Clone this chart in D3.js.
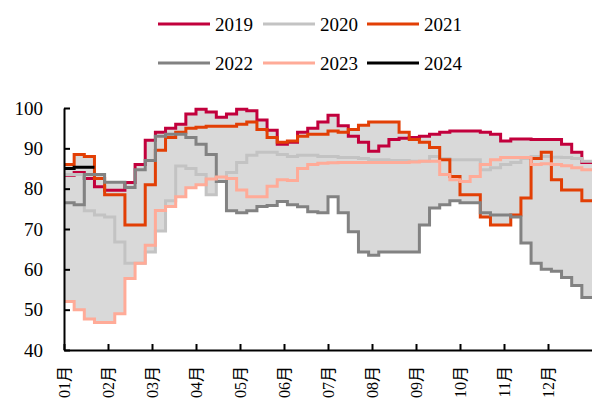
<!DOCTYPE html>
<html><head><meta charset="utf-8">
<script src="https://cdn.jsdelivr.net/npm/d3@7"></script>
<style>
html,body{margin:0;padding:0;background:#fff;overflow:hidden;}
svg{display:block;}
text{font-family:"Liberation Serif","Noto Sans CJK SC",serif;fill:#000;}
</style></head>
<body><svg id="c" width="592" height="403"></svg>
<script>
const months = ["01月","02月","03月","04月","05月","06月","07月","08月","09月","10月","11月","12月"];
const yTicks = [40,50,60,70,80,90,100];
const seriesNames = ["2019","2020","2021","2022","2023","2024"];
const seriesColors = ["#C2003C","#C3C3C3","#E23F05","#828282","#FFAB98","#000000"];

const s2019 = [83.3,84,82.5,80.5,79.6,79.6,81.5,86,92,94,95,96,98.5,99.7,99,97.7,98.5,99.7,99.3,97,94.5,91,91.5,94,95,96.5,98.2,95.6,93,91.5,89.3,90.6,92.2,92.5,92.7,93,93.5,94,94.3,94.3,94.3,94,93.5,91.8,92.3,92.3,92.2,92.2,92.2,91,89,86.5];
const s2020 = [83.5,83.5,74.5,73.5,73,66.8,61.5,61.5,64.3,69.5,77,85.6,85,83.5,78.5,81.8,84,86.5,88.3,89,89,88.5,88,88.3,88.3,88,88,87.7,87.7,87.5,87.2,87.2,87,87,86.8,86.8,88,87.5,87.2,87.2,87.2,84.7,85.2,86,86.5,87.5,88,88,87.8,87.7,87.5,86.8];
const s2021 = [86,88.5,88,82.5,78.5,78.5,71,71,81,89.5,92.7,94,95,95.2,95.5,95.5,95.5,96,96.5,94.7,92.7,91.5,91.8,93,93.5,93.5,94.3,94,94.7,95.7,96.5,96.5,96.5,94,92.2,91.5,90.2,87.2,83,78.5,78.5,73,71,71,73.5,77.7,87.5,89,82.2,79.7,79.7,77];
const s2022 = [76.5,76,83.5,83.5,81.6,81.6,80.3,84.7,87,93,93.5,93.5,92.7,91,88.5,81.8,74.5,74,74.5,75.6,75.8,76.8,76,75.5,74.3,74,78,74,69.3,64.3,63.5,64.3,64.3,64.3,64.3,71,75.2,76,77,76.5,76.5,74,73.5,73.5,73,66.5,61.5,60,59.5,58,56,53];
const s2023 = [52,50,47.7,46.8,46.8,49,57.7,61.5,66,74.6,75.6,78,80.2,81,82.4,82.9,82.5,79.7,78,78,80.6,82.2,82,85,86,86.3,86.4,86.5,86.5,86.5,86.5,86.5,86.5,86.5,86.6,86.8,86.8,83.5,82.2,81.8,83,86,87.2,87.7,87.7,87.7,86,86.2,86,85.7,85.2,84.7];
const s2024 = [85,85.3,85.3];

const allSeries = [s2019,s2020,s2021,s2022,s2023,s2024];
const nWeeks = 52;

const svg = d3.select("#c");
const mLeft = 64, mRight = 592, mTop = 108, mBottom = 350;

const x = d3.scaleLinear().domain([0, nWeeks]).range([mLeft, mRight]);
const xm = d3.scaleLinear().domain([0, 12]).range([mLeft, mRight]);
const y = d3.scaleLinear().domain([40, 100]).range([mBottom, mTop]);

function pts(arr){
  const p = arr.map((v,i)=>[i,v]);
  p.push([arr.length, arr[arr.length-1]]);
  return p;
}

const hist = [s2019,s2020,s2021,s2022,s2023];
const band = d3.range(nWeeks).map(i=>[i, d3.min(hist,s=>s[i]), d3.max(hist,s=>s[i])]);
band.push([nWeeks, band[nWeeks-1][1], band[nWeeks-1][2]]);

svg.append("path")
  .attr("d", d3.area().curve(d3.curveStepAfter)
    .x(d=>x(d[0])).y0(d=>y(d[1])).y1(d=>y(d[2]))(band))
  .attr("fill","#D9D9D9");

const line = d3.line().curve(d3.curveStepAfter).x(d=>x(d[0])).y(d=>y(d[1]));
allSeries.forEach((s,k)=>{
  svg.append("path").attr("d", line(pts(s)))
    .attr("fill","none").attr("stroke", seriesColors[k])
    .attr("stroke-width", 3).attr("stroke-linejoin","miter").attr("stroke-linecap","butt");
});

const yAxis = d3.axisLeft(y).tickValues(yTicks).tickSizeInner(-6).tickSizeOuter(0).tickPadding(21);
const gy = svg.append("g").attr("transform",`translate(${mLeft},0)`).call(yAxis);
gy.select(".domain").attr("stroke","#000").attr("stroke-width",2);
gy.selectAll(".tick line").attr("stroke","#000").attr("stroke-width",2);
gy.selectAll(".tick text").attr("font-size",19).style("font-family","Liberation Serif, serif").attr("fill","#000");

const xAxis = d3.axisBottom(xm).tickValues(d3.range(12)).tickFormat(i=>months[i]).tickSizeInner(-6).tickSizeOuter(0);
const gx = svg.append("g").attr("transform",`translate(0,${mBottom})`).call(xAxis);
gx.select(".domain").attr("stroke","#000").attr("stroke-width",2);
gx.selectAll(".tick line").attr("stroke","#000").attr("stroke-width",2);
gx.selectAll(".tick text")
  .attr("font-size",16)
  .attr("transform","rotate(-90)")
  .attr("text-anchor","end")
  .attr("x",-16).attr("y",0).attr("dy","0.35em")
  .attr("fill","#000");

const legX = [158, 263, 367];
const legY = [24, 63];
seriesNames.forEach((n,k)=>{
  const lx = legX[k%3], ly = legY[Math.floor(k/3)];
  svg.append("line").attr("x1",lx).attr("x2",lx+52).attr("y1",ly).attr("y2",ly)
    .attr("stroke",seriesColors[k]).attr("stroke-width",3);
  svg.append("text").attr("x",lx+57).attr("y",ly).attr("dy","0.35em")
    .attr("font-size",19).text(n);
});
</script></body></html>
